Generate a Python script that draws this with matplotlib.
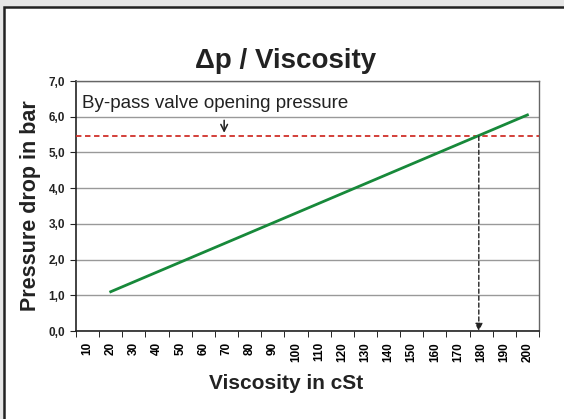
import matplotlib.pyplot as plt
from matplotlib.patches import Rectangle

plt.rcParams['font.family'] = ['Liberation Sans', 'DejaVu Sans']

# categories on the x axis
viscosity_labels = ['10', '20', '30', '40', '50', '60', '70', '80', '90', '100',
                    '110', '120', '130', '140', '150', '160', '170', '180', '190', '200']
# line from 20 cSt to 200 cSt
line_visc = ['20', '200']
line_dp = [1.1, 6.05]

bypass_pressure = 5.45
bypass_visc = '180'
note_visc = '70'
y_ticks = [0, 1, 2, 3, 4, 5, 6, 7]

pos = {lab: i for i, lab in enumerate(viscosity_labels)}

fig = plt.figure(figsize=(5.64, 4.19), dpi=100)
fig.patch.set_facecolor('#e6e6e6')
fig.patches.append(Rectangle((4 / 564, -0.05), 1.2, 1 - 7 / 419 + 0.05,
                             transform=fig.transFigure, facecolor='white',
                             edgecolor='#222222', linewidth=1.8, zorder=-10))

ax = fig.add_axes([76 / 564, 1 - 331 / 419, 463 / 564, 250 / 419])
ax.set_facecolor('white')

ax.plot([pos[v] for v in line_visc], line_dp, color='#17893a', linewidth=2.0, zorder=4)
ax.axhline(bypass_pressure, color='#d0302a', linestyle=(0, (3, 2)), linewidth=1.3, zorder=3)

xb = pos[bypass_visc] - 0.1
ax.annotate('', xy=(xb, 0), xytext=(xb, bypass_pressure),
            arrowprops=dict(arrowstyle='-|>', color='#222222', linestyle=(0, (3, 2)),
                            linewidth=1.0, mutation_scale=11, shrinkA=0, shrinkB=0),
            zorder=5)

ax.text(-0.25, 6.25, 'By-pass valve opening pressure', fontsize=13.5, color='#222222',
        va='baseline', ha='left')
xn = pos[note_visc] - 0.1
ax.annotate('', xy=(xn, 5.55), xytext=(xn, 5.9),
            arrowprops=dict(arrowstyle='->', color='#222222', linewidth=1.1,
                            mutation_scale=12, shrinkA=0, shrinkB=0))

ax.set_xlim(-0.5, len(viscosity_labels) - 0.5)
ax.set_ylim(0, 7)
ax.set_yticks(y_ticks)
ax.set_yticklabels([f'{v:.1f}'.replace('.', ',') for v in y_ticks],
                   fontsize=8.5, fontweight='bold')
ax.set_xticks(range(len(viscosity_labels)))
ax.set_xticklabels(viscosity_labels, rotation=90, fontsize=8.5, fontweight='bold')
ax.set_xticks([i - 0.5 for i in range(len(viscosity_labels) + 1)], minor=True)
ax.tick_params(axis='x', which='major', length=0, pad=8)
ax.tick_params(axis='x', which='minor', length=4, direction='out')
ax.tick_params(axis='y', length=4, direction='out', pad=4, colors='#222222')

ax.grid(axis='y', color='#999999', linewidth=1.0)
ax.set_axisbelow(True)
for s in ['left', 'bottom']:
    ax.spines[s].set_color('#222222')
    ax.spines[s].set_linewidth(1.2)
for s in ['top', 'right']:
    ax.spines[s].set_color('#666666')
    ax.spines[s].set_linewidth(1.0)

fig.text(286 / 564, 1 - 68 / 419, '\u0394p / Viscosity', fontsize=20, fontweight='bold',
         ha='center', va='baseline', color='#222222')
fig.text(286 / 564, 1 - 389 / 419, 'Viscosity in cSt', fontsize=15, fontweight='bold',
         ha='center', va='baseline', color='#222222')
ax.set_ylabel('Pressure drop in bar', fontsize=15.5, fontweight='bold', labelpad=5,
              color='#222222')

fig.savefig('out.png', dpi=100, facecolor=fig.get_facecolor())
